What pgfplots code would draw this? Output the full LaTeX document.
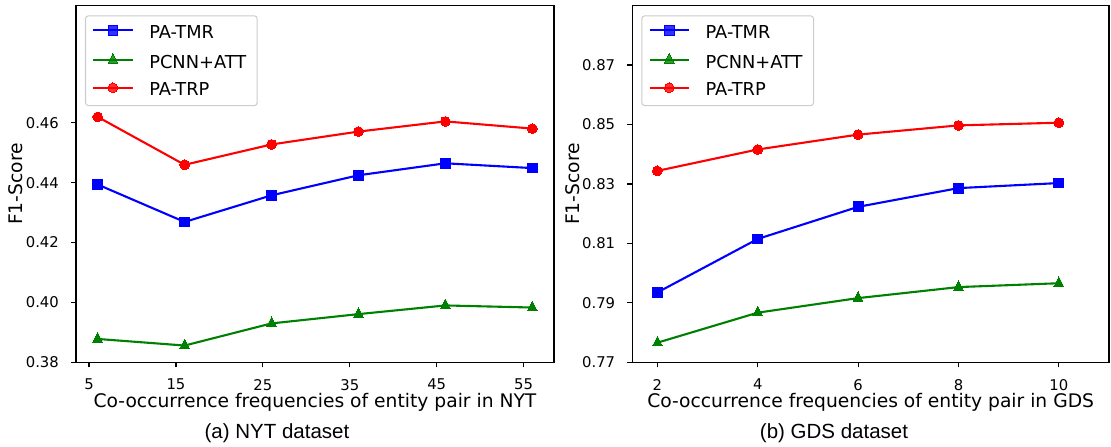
\documentclass[border=0pt]{standalone}
\usepackage{pgfplots}
\pgfplotsset{compat=1.18}
\usepackage{fontspec}
\setmainfont{DejaVu Sans}
\newfontfamily\capfont{Liberation Sans}

\definecolor{mplblue}{RGB}{0,0,255}
\definecolor{mplgreen}{RGB}{0,128,0}
\definecolor{mplred}{RGB}{255,0,0}

\pgfplotsset{
  f1axis/.style={
    scale only axis,
    anchor=south west,
    height=356.7pt,
    axis line style={line width=1.15pt},
    major tick style={line width=1.15pt, black},
    major tick length=5pt,
    tick align=outside,
    xtick pos=bottom, ytick pos=left,
    /pgf/number format/assume math mode=true,
    /pgf/number format/fixed,
    /pgf/number format/fixed zerofill,
    /pgf/number format/precision=2,
    tick label style={font=\fontsize{14.8}{17}\selectfont},
    xticklabel style={anchor=north, inner sep=0pt, yshift=-11.7pt},
    yticklabel style={anchor=east, inner sep=0pt, xshift=-12pt},
    every axis x label/.style={at={(axis description cs:0.5,0)}, yshift=-45pt, anchor=base},
    every axis y label/.style={at={(axis description cs:0,0.5)}, xshift=-60pt, anchor=center, rotate=90},
    label style={font=\fontsize{18.7}{22}\selectfont},
    ylabel={F1-Score},
    legend style={
      at={(0,1)}, anchor=north west, xshift=9pt, yshift=-9.7pt,
      draw=black!20, line width=1pt, fill=white, fill opacity=0.8, text opacity=1,
      rounded corners=3pt,
      font=\fontsize{17.8}{21}\selectfont,
      inner xsep=6.7pt, inner ysep=9.7pt, row sep=14.8pt,
      cells={anchor=center},
      nodes={inner xsep=4.3pt, inner ysep=0pt, text height=13pt, text depth=0pt},
      /tikz/every odd column/.append style={column sep=11.4pt},
    },
    legend cell align=left,
    legend image code/.code={
      \draw[mark repeat=2, mark phase=2, yshift=1.7pt, ##1]
        plot coordinates {(0pt,0pt) (19.65pt,0pt) (39.3pt,0pt)};
    },
  },
  tmr/.style={color=mplblue, line width=2.1pt, mark=square*, mark size=4.9pt, mark options={solid, line width=0pt}},
  att/.style={color=mplgreen, line width=2.1pt, mark=triangle*, mark size=5.6pt, mark options={solid, line width=0pt, yscale=1.15}},
  trp/.style={color=mplred, line width=2.1pt, mark=*, mark size=4.9pt, mark options={solid, line width=0pt}},
}

\begin{document}
\begin{tikzpicture}
\path[use as bounding box] (0pt,0pt) rectangle (1111pt,447pt);

% (a) NYT
\begin{axis}[
    f1axis,
    at={(76pt,84.7pt)},
    width=478pt,
    xmin=3.5, xmax=58.5,
    ymin=0.38, ymax=0.4992,
    xtick={5,15,25,35,45,55},
    ytick={0.38,0.40,0.42,0.44,0.46},
    xticklabels={5,15,25,35,45,55},
    xlabel={Co-occurrence frequencies of entity pair in NYT},
]
\addplot[tmr] coordinates {(6,0.4394) (16,0.4269) (26,0.4358) (36,0.4425) (46,0.4465) (56,0.4449)};
\addlegendentry{PA-TMR}
\addplot[att] coordinates {(6,0.3878) (16,0.3856) (26,0.3930) (36,0.3961) (46,0.3990) (56,0.3983)};
\addlegendentry{PCNN+ATT}
\addplot[trp] coordinates {(6,0.4620) (16,0.4460) (26,0.4528) (36,0.4571) (46,0.4605) (56,0.4581)};
\addlegendentry{PA-TRP}
\end{axis}

% (b) GDS
\begin{axis}[
    f1axis,
    at={(632.3pt,84.7pt)},
    width=476.7pt,
    xmin=1.5, xmax=11,
    ymin=0.77, ymax=0.89,
    xtick={2,4,6,8,10},
    ytick={0.77,0.79,0.81,0.83,0.85,0.87},
    xticklabels={2,4,6,8,10},
    xlabel={Co-occurrence frequencies of entity pair in GDS},
]
\addplot[tmr] coordinates {(2,0.7935) (4,0.8115) (6,0.8223) (8,0.8286) (10,0.8303)};
\addlegendentry{PA-TMR}
\addplot[att] coordinates {(2,0.7766) (4,0.7867) (6,0.7916) (8,0.7953) (10,0.7966)};
\addlegendentry{PCNN+ATT}
\addplot[trp] coordinates {(2,0.8344) (4,0.8416) (6,0.8466) (8,0.8497) (10,0.8506)};
\addlegendentry{PA-TRP}
\end{axis}

\node[anchor=base] at (277pt,8pt) {\capfont\fontsize{20.5}{24}\selectfont (a) NYT dataset};
\node[anchor=base] at (834pt,8pt) {\capfont\fontsize{20.5}{24}\selectfont (b) GDS dataset};
\end{tikzpicture}
\end{document}
